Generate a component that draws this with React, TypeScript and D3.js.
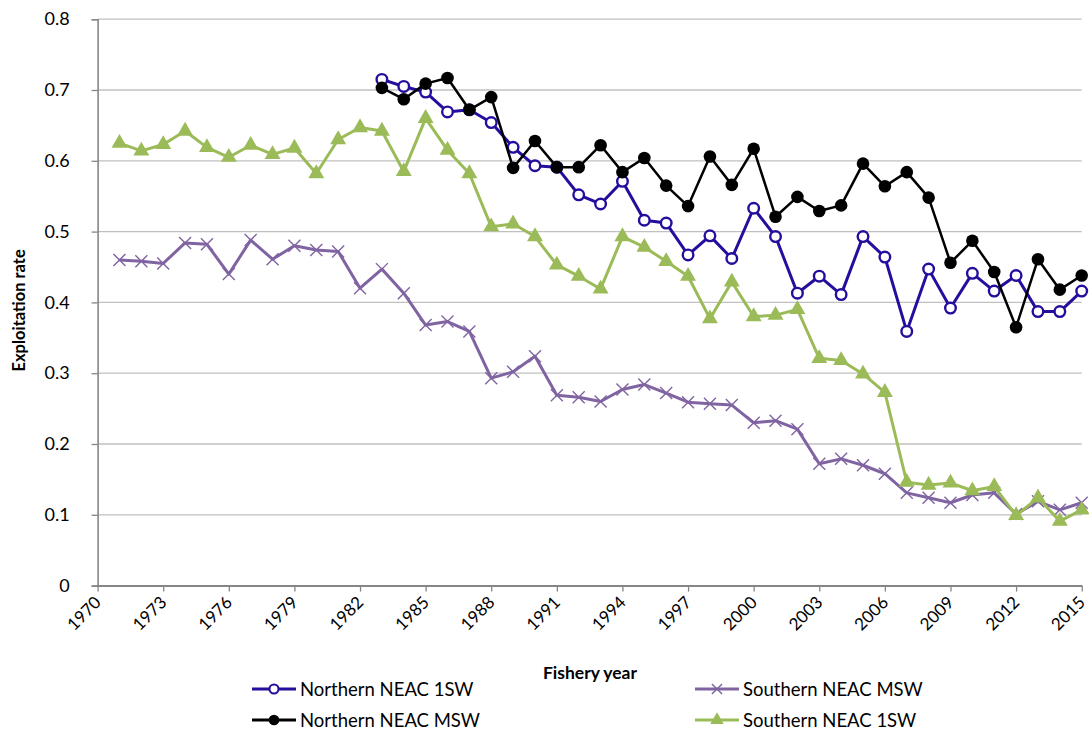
import * as d3 from 'd3';
import React, { useEffect, useRef } from 'react';

// years for the southern series (1971-2015) and northern series (1983-2015)
const southYears = d3.range(1971, 2016);
const northYears = d3.range(1983, 2016);

const northern1SW = [0.715, 0.705, 0.697, 0.669, 0.672, 0.654, 0.619, 0.593, 0.591, 0.552, 0.539,
  0.571, 0.516, 0.512, 0.467, 0.494, 0.462, 0.533, 0.493, 0.413, 0.437, 0.411, 0.493, 0.464,
  0.359, 0.447, 0.392, 0.441, 0.416, 0.438, 0.387, 0.387, 0.416];

const northernMSW = [0.703, 0.687, 0.709, 0.717, 0.672, 0.690, 0.590, 0.628, 0.591, 0.591, 0.622,
  0.584, 0.604, 0.565, 0.536, 0.606, 0.566, 0.617, 0.521, 0.549, 0.529, 0.537, 0.596, 0.564,
  0.584, 0.548, 0.456, 0.487, 0.443, 0.365, 0.461, 0.418, 0.438];

const southernMSW = [0.460, 0.458, 0.455, 0.484, 0.482, 0.440, 0.488, 0.461, 0.480, 0.474, 0.472,
  0.420, 0.447, 0.413, 0.368, 0.373, 0.359, 0.293, 0.302, 0.324, 0.269, 0.266, 0.260, 0.277,
  0.284, 0.272, 0.259, 0.257, 0.255, 0.230, 0.233, 0.221, 0.172, 0.179, 0.170, 0.158, 0.131,
  0.124, 0.117, 0.128, 0.131, 0.101, 0.119, 0.107, 0.117];

const southern1SW = [0.625, 0.614, 0.623, 0.642, 0.619, 0.605, 0.622, 0.609, 0.618, 0.582, 0.630,
  0.647, 0.642, 0.585, 0.660, 0.615, 0.582, 0.507, 0.511, 0.493, 0.453, 0.437, 0.419, 0.493,
  0.478, 0.458, 0.437, 0.377, 0.429, 0.380, 0.382, 0.390, 0.321, 0.318, 0.299, 0.273, 0.146,
  0.142, 0.145, 0.134, 0.140, 0.099, 0.124, 0.091, 0.107];

const yTicks = [0, 0.1, 0.2, 0.3, 0.4, 0.5, 0.6, 0.7, 0.8];
const xTicks = d3.range(1970, 2016, 3);

const FONT = 'Lato, "Open Sans", sans-serif';

function drawChart(svgEl) {
  const width = 1089, height = 731;
  const left = 97.6, right = 1081.7, top = 19.2, bottom = 585.6;

  const svg = d3.select(svgEl);
  svg.selectAll('*').remove();
  svg.attr('width', width).attr('height', height);

  const x = d3.scaleLinear().domain([1970, 2015]).range([left, right]);
  const y = d3.scaleLinear().domain([0, 0.8]).range([bottom, top]);

  // gridlines
  svg.append('g')
    .selectAll('line')
    .data(yTicks.slice(1))
    .join('line')
    .attr('x1', left).attr('x2', right)
    .attr('y1', d => y(d)).attr('y2', d => y(d))
    .attr('stroke', '#c0c0c0').attr('stroke-width', 1.3);

  // y axis
  const yAxis = svg.append('g')
    .attr('transform', `translate(${left},0)`)
    .call(d3.axisLeft(y).tickValues(yTicks).tickSize(6).tickPadding(22)
      .tickFormat(d => d === 0 ? '0' : d3.format('.1f')(d)));
  yAxis.select('.domain').attr('stroke', '#868686').attr('stroke-width', 1.6);
  yAxis.selectAll('.tick line').attr('stroke', '#868686').attr('stroke-width', 1.3);
  yAxis.selectAll('text').attr('font-family', FONT).attr('font-size', 18).attr('fill', '#000');

  // x axis
  const xAxis = svg.append('g')
    .attr('transform', `translate(0,${bottom})`)
    .call(d3.axisBottom(x).tickValues(xTicks).tickSize(6).tickSizeOuter(0).tickFormat(d3.format('d')));
  xAxis.select('.domain').attr('stroke', '#868686').attr('stroke-width', 2);
  xAxis.selectAll('.tick line').attr('stroke', '#868686').attr('stroke-width', 1.3);
  xAxis.selectAll('text')
    .attr('font-family', FONT).attr('font-size', 17).attr('fill', '#000')
    .attr('text-anchor', 'end')
    .attr('dy', 0).attr('y', 0)
    .attr('transform', 'translate(4,18) rotate(-45)');

  // axis titles
  svg.append('text')
    .attr('transform', `translate(25,${(top + bottom) / 2 + 8}) rotate(-90)`)
    .attr('text-anchor', 'middle')
    .attr('font-family', FONT).attr('font-weight', 'bold').attr('font-size', 16.5)
    .text('Exploitation rate');
  svg.append('text')
    .attr('x', 590).attr('y', 679)
    .attr('text-anchor', 'middle')
    .attr('font-family', FONT).attr('font-weight', 'bold').attr('font-size', 17.5)
    .text('Fishery year');

  const line = d3.line().x(d => x(d[0])).y(d => y(d[1]));

  const series = [
    { name: 'Southern NEAC MSW', years: southYears, vals: southernMSW, color: '#8064a2', marker: 'cross' },
    { name: 'Southern NEAC 1SW', years: southYears, vals: southern1SW, color: '#9bbb59', marker: 'triangle' },
    { name: 'Northern NEAC 1SW', years: northYears, vals: northern1SW, color: '#250e9d', marker: 'open' },
    { name: 'Northern NEAC MSW', years: northYears, vals: northernMSW, color: '#000000', marker: 'dot' },
  ];

  function addMarker(g, s, cx, cy, scale) {
    if (s.marker === 'cross') {
      const r = 6 * scale;
      g.append('path')
        .attr('d', `M${cx - r},${cy - r}L${cx + r},${cy + r}M${cx - r},${cy + r}L${cx + r},${cy - r}`)
        .attr('stroke', s.color).attr('stroke-width', 1.4).attr('fill', 'none');
    } else if (s.marker === 'triangle') {
      g.append('path')
        .attr('d', d3.symbol().type(d3.symbolTriangle).size(110 * scale * scale)())
        .attr('transform', `translate(${cx},${cy})`)
        .attr('fill', s.color);
    } else if (s.marker === 'open') {
      g.append('circle').attr('cx', cx).attr('cy', cy).attr('r', 5.3 * scale)
        .attr('fill', '#fff').attr('stroke', s.color).attr('stroke-width', 2.4 * scale);
    } else {
      g.append('circle').attr('cx', cx).attr('cy', cy).attr('r', 6.3 * scale).attr('fill', s.color);
    }
  }

  series.forEach(s => {
    const pts = s.years.map((yr, i) => [yr, s.vals[i]]);
    const g = svg.append('g');
    g.append('path')
      .datum(pts)
      .attr('fill', 'none')
      .attr('stroke', s.color)
      .attr('stroke-width', s.marker === 'dot' ? 2.5 : 3)
      .attr('stroke-linejoin', 'round')
      .attr('d', line);
    pts.forEach(p => addMarker(g, s, x(p[0]), y(p[1]), 1));
  });

  // legend
  const legendItems = [
    { s: series[2], lx: 252, ly: 689 },
    { s: series[3], lx: 252, ly: 720 },
    { s: series[0], lx: 695, ly: 689 },
    { s: series[1], lx: 695, ly: 720 },
  ];
  legendItems.forEach(({ s, lx, ly }) => {
    const g = svg.append('g');
    g.append('line').attr('x1', lx).attr('x2', lx + 44).attr('y1', ly).attr('y2', ly)
      .attr('stroke', s.color).attr('stroke-width', 3);
    addMarker(g, s, lx + 22, ly, 0.85);
    g.append('text')
      .attr('x', lx + 48).attr('y', ly + 6.5)
      .attr('font-family', FONT).attr('font-size', 18.5)
      .text(s.name);
  });
}

function App() {
  const ref = useRef(null);
  useEffect(() => drawChart(ref.current), []);
  return (
    <div style={{ position: 'absolute', left: 0, top: 0 }}>
      <svg ref={ref}></svg>
    </div>
  );
}

export default App;
